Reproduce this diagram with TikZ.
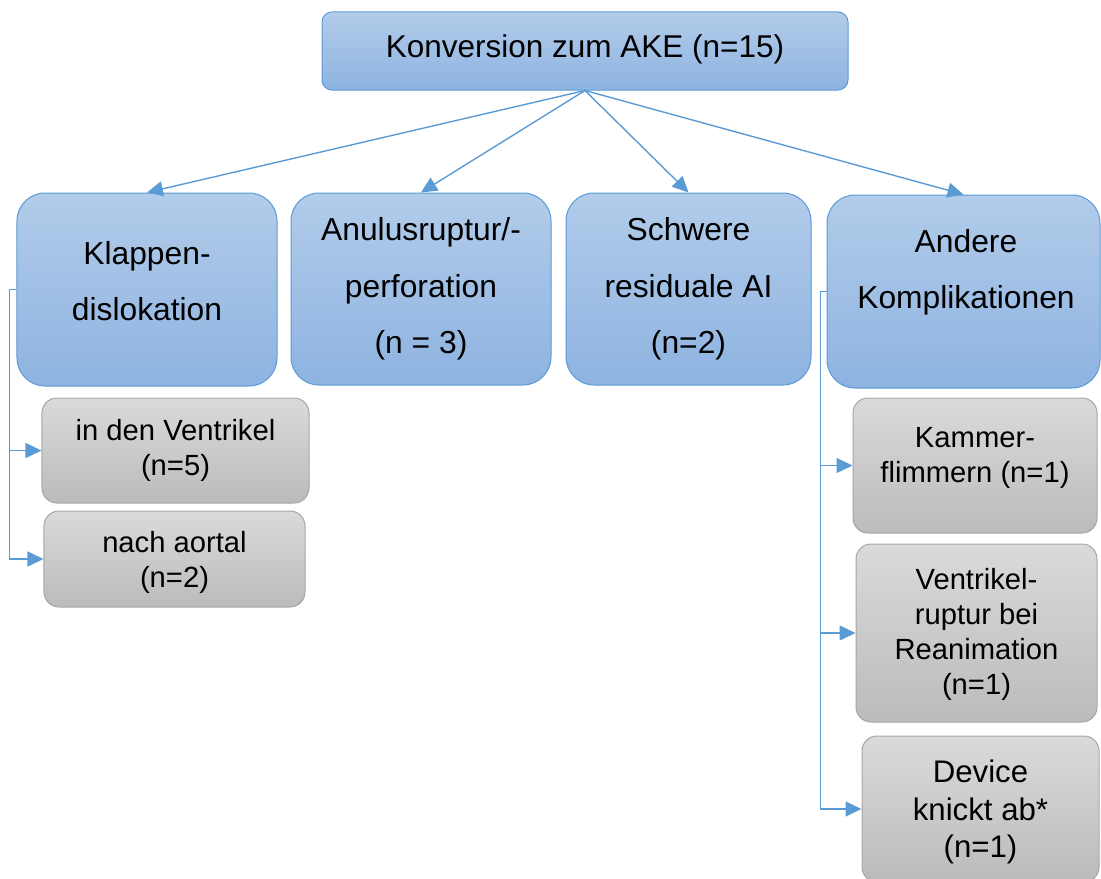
\documentclass[tikz,border=0pt]{standalone}
\usepackage{fontspec}
\setmainfont{Liberation Sans}
\usetikzlibrary{arrows.meta}
\definecolor{bluetop}{HTML}{B2CCEA}
\definecolor{bluebot}{HTML}{8EB3E1}
\definecolor{blueline}{HTML}{5B9BD5}
\definecolor{graytop}{HTML}{DADADA}
\definecolor{graybot}{HTML}{BBBBBB}
\definecolor{grayline}{HTML}{A6A6A6}
\newcommand\fontTop{\fontsize{31.5bp}{40bp}\selectfont}
\newcommand\fontBlue{\fontsize{31.8bp}{56.5bp}\selectfont}
\newcommand\fontGray{\fontsize{29.2bp}{35bp}\selectfont}
\newcommand\fontDev{\fontsize{31.2bp}{37.5bp}\selectfont}
\begin{document}
\begin{tikzpicture}[x=1bp,y=-1bp,
  bbox/.style={draw=blueline, line width=1bp, top color=bluetop, bottom color=bluebot,
    rounded corners=#1, inner sep=0pt},
  gbox/.style={draw=grayline, line width=1bp, top color=graytop, bottom color=graybot,
    rounded corners=15bp, inner sep=0pt},
  txt/.style={align=center, inner sep=0pt, text=black},
  conn/.style={draw=blueline, line width=1.4bp, -{Triangle[length=16bp,width=15bp]}},
]
\useasboundingbox (0,0) rectangle (1101,879);
% boxes
\node[bbox=10bp, minimum width=526bp, minimum height=78bp] (top) at (585,51) {};
\node[bbox=28bp, minimum width=260bp, minimum height=193bp] (kl) at (147,289.5) {};
\node[bbox=28bp, minimum width=260bp, minimum height=192bp] (an) at (421,289) {};
\node[bbox=28bp, minimum width=245bp, minimum height=192bp] (sc) at (688.5,289) {};
\node[bbox=28bp, minimum width=273bp, minimum height=193bp] (ak) at (963.5,291.5) {};
\node[gbox, minimum width=267bp, minimum height=105bp] (g1) at (175.5,450.5) {};
\node[gbox, minimum width=261bp, minimum height=96bp] (g2) at (174.5,559) {};
\node[gbox, minimum width=244bp, minimum height=135bp] (g3) at (975,465.5) {};
\node[gbox, minimum width=241bp, minimum height=178bp] (g4) at (976.5,633) {};
\node[gbox, minimum width=237bp, minimum height=146bp] (g5) at (980.5,809) {};
% texts
\node[txt, font=\fontTop] (topT) at (585,49) {Konversion zum AKE (n=15)};
\node[txt, font=\fontBlue] (klT) at (147,281) {Klappen-\\dislokation};
\node[txt, font=\fontBlue] (anT) at (421,289) {Anulusruptur/-\\perforation\\(n = 3)};
\node[txt, font=\fontBlue] (scT) at (688.5,289) {Schwere\\residuale AI\\(n=2)};
\node[txt, font=\fontBlue] (akT) at (966,272.5) {Andere\\Komplikationen};
\node[txt, font=\fontGray] (g1T) at (175.5,450.5) {in den Ventrikel\\(n=5)};
\node[txt, font=\fontGray] (g2T) at (174.5,562.5) {nach aortal\\(n=2)};
\node[txt, font=\fontGray] (g3T) at (975,457.5) {Kammer-\\flimmern (n=1)};
\node[txt, font=\fontGray] (g4T) at (976.5,634.5) {Ventrikel-\\ruptur bei\\Reanimation\\(n=1)};
\node[txt, font=\fontDev] (g5T) at (980.5,812) {Device\\knickt ab*\\(n=1)};
% connectors
\draw[conn] (top.south) -- (kl.north);
\draw[conn] (top.south) -- (an.north);
\draw[conn] (top.south) -- (sc.north);
\draw[conn] (top.south) -- (ak.north);
\draw[conn] (kl.west) -- ++(-7,0) |- (g1.west);
\draw[conn] (kl.west) -- ++(-7,0) |- (g2.west);
\draw[conn] (ak.west) -- ++(-6,0) |- (g3.west);
\draw[conn] (ak.west) -- ++(-6,0) |- (g4.west);
\draw[conn] (ak.west) -- ++(-6,0) |- (g5.west);
\end{tikzpicture}
\end{document}
